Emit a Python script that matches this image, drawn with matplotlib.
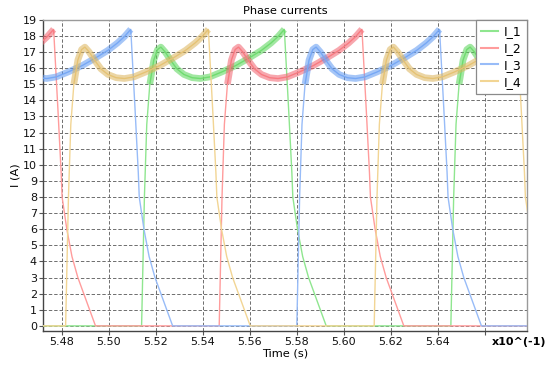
import numpy as np
import matplotlib
matplotlib.use("Agg")
import matplotlib.pyplot as plt
from matplotlib.lines import Line2D

# ---------------- data ----------------
series_names = ["I_1", "I_2", "I_3", "I_4"]
# switch-on instants of each phase (time axis in units of 1e-1 s)
on_I1 = [5.5140, 5.6455]
on_I2 = [5.4159, 5.5470]
on_I3 = [5.4487, 5.5800]
on_I4 = [5.4817, 5.6129]
# shape of one conduction pulse: offset after switch-on, current (A)
pulse_dt = [0.0000, 0.0006, 0.0012, 0.0022, 0.0035, 0.0052, 0.0068, 0.0082,
            0.0100, 0.0125, 0.0150, 0.0180, 0.0215, 0.0250, 0.0290, 0.0340,
            0.0400, 0.0460, 0.0510, 0.0550, 0.0580, 0.0607,
            0.0625, 0.0639, 0.0643, 0.0663, 0.0685, 0.0710, 0.0735, 0.0760, 0.0785]
pulse_i = [0.0, 4.0, 8.0, 12.5, 15.0, 16.5, 17.15, 17.3,
           17.0, 16.45, 15.95, 15.6, 15.4, 15.35, 15.45, 15.75,
           16.15, 16.65, 17.1, 17.55, 17.95, 18.4,
           13.5, 9.5, 8.0, 6.0, 4.3, 3.0, 2.0, 1.0, 0.0]
band_from, band_to = 0.0035, 0.0607   # part of the pulse carrying the PWM ripple band

x_ticks = [5.48, 5.50, 5.52, 5.54, 5.56, 5.58, 5.60, 5.62, 5.64, 5.66]
x_tick_labels = ["5.48", "5.50", "5.52", "5.54", "5.56", "5.58", "5.60", "5.62", "5.64", ""]
y_ticks = list(range(0, 20))

# ---------------- styling ----------------
thin_colors = ["#8fe68f", "#ff9c9c", "#98bcf8", "#f2d594"]
band_colors = ["#55d455", "#f2606c", "#5d98f2", "#dcb45a"]
XMIN, XMAX = 5.4722, 5.6780

plt.rcParams['font.family'] = ['DejaVu Sans']
plt.rcParams['font.size'] = 8

fig = plt.figure(figsize=(5.5, 3.71), dpi=100)
ax = fig.add_axes([0.0787, 0.1086, 0.880, 0.8383])

on_lists = [on_I1, on_I2, on_I3, on_I4]
dt = np.array(pulse_dt)
cur = np.array(pulse_i)
band_mask = (dt >= band_from) & (dt <= band_to)

for k, ons in enumerate(on_lists):
    t_all = [XMIN - 0.01]
    i_all = [0.0]
    for s in ons:
        t_all.extend(list(s + dt))
        i_all.extend(list(cur))
    t_all.append(XMAX + 0.01)
    i_all.append(0.0)
    ax.plot(t_all, i_all, color=thin_colors[k], lw=1.0, zorder=3 + k * 0.1)
    for s in ons:
        ax.plot(s + dt[band_mask], cur[band_mask], color=band_colors[k], lw=4.8,
                alpha=0.55, solid_capstyle='butt', solid_joinstyle='round',
                zorder=3 + k * 0.1 + 0.05)

ax.set_xlim(XMIN, XMAX)
ax.set_ylim(-0.3, 19)
ax.set_xticks(x_ticks)
ax.set_xticklabels(x_tick_labels)
ax.set_yticks(y_ticks)
ax.tick_params(axis='both', length=3, width=0.8, color='#555555', pad=1.5,
               labelsize=8, labelcolor='#111111')
ax.grid(True, color='#6e6e6e', linestyle=(0, (3.5, 2)), linewidth=0.7, zorder=1)
ax.set_axisbelow(True)

for side in ['left', 'bottom']:
    ax.spines[side].set_color('#444444')
    ax.spines[side].set_linewidth(1.0)
for side in ['top', 'right']:
    ax.spines[side].set_color('#9a9a9a')
    ax.spines[side].set_linewidth(1.0)

ax.set_title("Phase currents", fontsize=8.2, pad=4)
ax.set_xlabel("Time (s)", fontsize=8.2, labelpad=1)
ax.set_ylabel("I (A)", fontsize=8.2, labelpad=2)
fig.text(0.944, 0.079, "x10^(-1)", fontsize=8, fontweight='bold', ha='center', va='center')

handles = [Line2D([], [], color=c, lw=1.5) for c in thin_colors]
leg = ax.legend(handles, series_names, loc='upper right', borderaxespad=0,
                fancybox=False, framealpha=1, edgecolor='#8a8a8a', fontsize=9,
                handlelength=1.3, handletextpad=0.5, labelspacing=0.3,
                borderpad=0.45)
leg.get_frame().set_linewidth(0.9)
leg.set_zorder(10)

fig.savefig("out.png", dpi=100)
